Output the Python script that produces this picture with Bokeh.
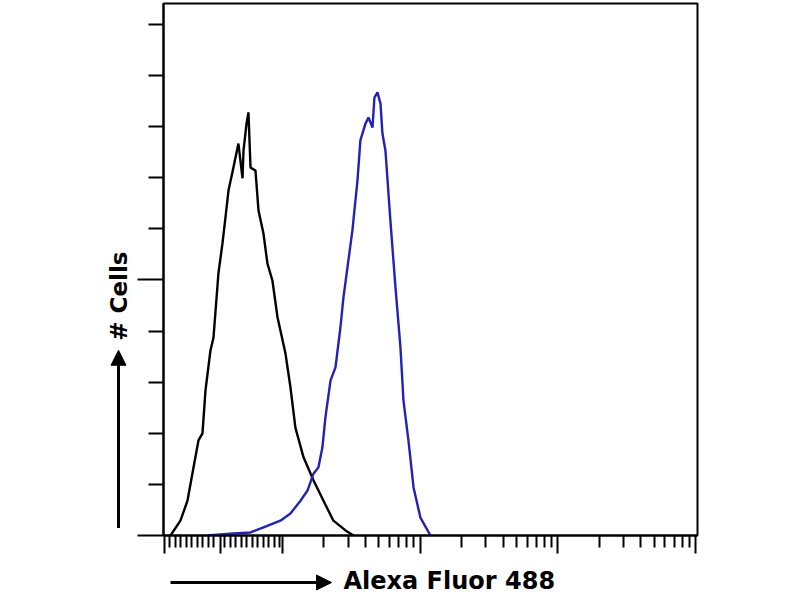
import math
from bokeh.plotting import figure
from bokeh.layouts import column, row
from bokeh.models import FixedTicker, CustomJSTickFormatter, Arrow, NormalHead, Range1d
from bokeh.core.properties import value
from bokeh.embed import file_html
from bokeh.resources import INLINE

# Fluorescence (decade units, 0 = first full decade mark) and cell counts (axis units)
ctrl_x = [-0.813, -0.741, -0.690, -0.646, -0.610, -0.581, -0.559, -0.523, -0.501, -0.465,
          -0.436, -0.414, -0.392, -0.356, -0.320, -0.290, -0.283, -0.261, -0.247, -0.232,
          -0.196, -0.174, -0.138, -0.109, -0.073, -0.036, 0.022, 0.058, 0.094, 0.153,
          0.225, 0.298, 0.370, 0.458, 0.516]
ctrl_y = [0.0, 0.29, 0.68, 1.33, 1.86, 2.00, 2.84, 3.62, 3.87, 5.13,
          5.71, 6.22, 6.75, 7.20, 7.67, 6.99, 7.53, 8.06, 8.28, 7.20,
          7.14, 6.36, 5.91, 5.32, 4.99, 4.27, 3.56, 2.90, 2.11, 1.53,
          1.08, 0.68, 0.29, 0.10, 0.0]

stain_x = [-0.545, -0.356, -0.232, -0.138, -0.015, 0.058, 0.131, 0.182, 0.225, 0.261,
           0.290, 0.312, 0.349, 0.385, 0.421, 0.443, 0.472, 0.508, 0.545, 0.566,
           0.603, 0.625, 0.654, 0.668, 0.690, 0.712, 0.726, 0.748, 0.784, 0.821,
           0.857, 0.879, 0.915, 0.952, 1.002, 1.075]
stain_y = [0.0, 0.04, 0.06, 0.16, 0.29, 0.43, 0.68, 0.88, 1.21, 1.33,
           1.72, 2.31, 3.03, 3.29, 4.07, 4.66, 5.24, 5.97, 6.95, 7.73,
           8.06, 8.18, 7.98, 8.57, 8.67, 8.45, 7.87, 7.53, 6.16, 4.85,
           3.68, 2.64, 1.86, 0.94, 0.35, 0.0]

x_major = [-0.86, -0.45, 0, 1, 2, 3]
x_minor = [round(-0.82 + 0.04 * i, 3) for i in range(21) if abs(-0.82 + 0.04 * i + 0.45) > 0.015] + \
          [d + math.log10(k) for d in range(3) for k in range(2, 10)]
y_major = [0, 5]
y_minor = [1, 2, 3, 4, 6, 7, 8, 9, 10]

x_caption = "Alexa Fluor 488"
y_caption = "# Cells"

# ---- main histogram panel ----
p = figure(width=660, height=560, output_backend="svg", toolbar_location=None,
           x_range=Range1d(-0.864, 3.0145), y_range=Range1d(0, 10.41),
           min_border_left=33, min_border_right=93, min_border_top=3, min_border_bottom=25)
p.outline_line_color = "black"
p.outline_line_width = 2
p.xgrid.visible = False
p.ygrid.visible = False

blank = CustomJSTickFormatter(code="return ''")
for ax, maj, mnr, mo, no in ((p.xaxis[0], x_major, x_minor, 18, 12), (p.yaxis[0], y_major, y_minor, 26, 15)):
    ax.ticker = FixedTicker(ticks=maj, minor_ticks=mnr)
    ax.formatter = blank
    ax.axis_line_color = "black"
    ax.axis_line_width = 2
    ax.major_tick_line_color = "black"
    ax.minor_tick_line_color = "black"
    ax.major_tick_line_width = 2
    ax.minor_tick_line_width = 2
    ax.major_tick_in = 0
    ax.minor_tick_in = 0
    ax.major_tick_out = mo
    ax.minor_tick_out = no
    ax.major_label_standoff = 0
    ax.major_label_text_font_size = "1px"

p.line(ctrl_x, ctrl_y, line_color="black", line_width=2.4)
p.line(stain_x, stain_y, line_color="#2222b4", line_width=2.4)


def caption_panel(w, h):
    f = figure(width=w, height=h, output_backend="svg", toolbar_location=None,
               x_range=Range1d(0, w), y_range=Range1d(0, h),
               x_axis_location=None, y_axis_location=None, title_location=None,
               min_border=0, outline_line_color=None)
    f.grid.visible = False
    return f


# ---- left caption panel (# Cells with upward arrow) ----
left = caption_panel(130, 560)
left.text(x=[118], y=[252], text=[y_caption], angle=math.pi / 2, text_align="center",
          text_baseline="middle", text_font=value("DejaVu Sans"), text_font_style="bold",
          text_font_size="23px", text_color="black")
left.add_layout(Arrow(end=NormalHead(size=15, fill_color="black", line_color="black"),
                      x_start=118, y_start=8, x_end=118, y_end=195,
                      line_color="black", line_width=3))

# ---- bottom caption panel (arrow + Alexa Fluor 488) ----
bottom = caption_panel(790, 38)
bottom.add_layout(Arrow(end=NormalHead(size=15, fill_color="black", line_color="black"),
                        x_start=170, y_start=16, x_end=331, y_end=16,
                        line_color="black", line_width=3))
bottom.text(x=[343], y=[18], text=[x_caption], text_align="left", text_baseline="middle",
            text_font=value("DejaVu Sans"), text_font_style="bold",
            text_font_size="24px", text_color="black")

layout = column(row(left, p, spacing=0), bottom, spacing=0)
open("out.html", "w").write(file_html(layout, INLINE))
